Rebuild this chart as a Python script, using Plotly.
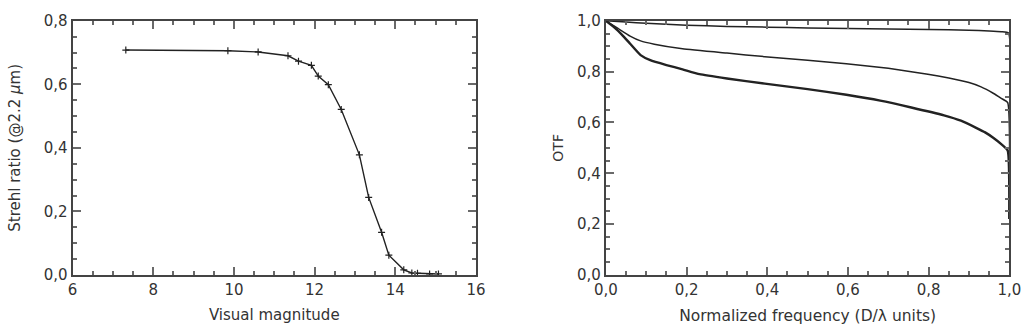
import plotly.graph_objects as go

# Left panel: Strehl ratio vs visual magnitude
vis_mag = [7.32, 9.85, 10.60, 11.34, 11.60, 11.92, 12.09, 12.34, 12.66, 13.11,
           13.34, 13.66, 13.84, 14.21, 14.41, 14.55, 14.85, 15.07]
strehl = [0.708, 0.706, 0.702, 0.690, 0.673, 0.660, 0.626, 0.599, 0.521, 0.378,
          0.244, 0.134, 0.062, 0.016, 0.006, 0.005, 0.003, 0.003]

# Right panel: OTF vs normalized frequency
freq_top = [0.0, 0.05, 0.1, 0.2, 0.3, 0.4, 0.5, 0.6, 0.7, 0.8, 0.9, 0.95, 0.98, 0.998, 1.0]
otf_top = [1.0, 0.995, 0.99, 0.983, 0.978, 0.975, 0.972, 0.970, 0.968, 0.966, 0.963, 0.960, 0.957, 0.952, 0.22]

freq_mid = [0.0, 0.03, 0.06, 0.086, 0.12, 0.19, 0.3, 0.394, 0.5, 0.596, 0.7, 0.798, 0.85, 0.9, 0.93,
            0.96, 0.98, 0.996, 1.0]
otf_mid = [1.0, 0.97, 0.94, 0.921, 0.908, 0.89, 0.873, 0.859, 0.845, 0.831, 0.813, 0.79, 0.775, 0.757, 0.74,
           0.715, 0.695, 0.678, 0.22]

freq_low = [0.0, 0.02, 0.04, 0.06, 0.086, 0.11, 0.15, 0.19, 0.232, 0.3, 0.394, 0.5, 0.596, 0.68, 0.757,
            0.838, 0.88, 0.919, 0.94, 0.96, 0.98, 0.996, 1.0]
otf_low = [1.0, 0.975, 0.945, 0.91, 0.865, 0.845, 0.826, 0.809, 0.79, 0.773, 0.753, 0.731, 0.709, 0.686,
           0.659, 0.628, 0.607, 0.578, 0.561, 0.54, 0.515, 0.49, 0.22]

W, H = 1035, 335
FONT = "DejaVu Sans"
INK = "#222"
FRAME = "#444"
TICK = "dimgray"
TXT = "#333"

fig = go.Figure()
fig.add_trace(go.Scatter(x=vis_mag, y=strehl, mode="lines+markers",
                         line=dict(color=INK, width=1.4),
                         marker=dict(symbol="cross-thin", size=5, line=dict(color=INK, width=1.2)),
                         xaxis="x", yaxis="y", showlegend=False))
for fx, fy, w in [(freq_top, otf_top, 1.5), (freq_mid, otf_mid, 1.5), (freq_low, otf_low, 2.4)]:
    fig.add_trace(go.Scatter(x=fx, y=fy, mode="lines",
                             line=dict(color=INK, width=w, shape="spline", smoothing=0.4),
                             xaxis="x2", yaxis="y2", showlegend=False))

def ax(dom, rng, tick0, dtick, dminor, title, anchor, fmt, standoff, tsize):
    return dict(domain=dom, range=rng, tickmode="linear", tick0=tick0, dtick=dtick, tickformat=fmt,
                ticks="inside", ticklen=8, tickwidth=2, tickcolor=TICK,
                minor=dict(dtick=dminor, ticks="inside", ticklen=4, tickcolor=TICK),
                showline=True, linecolor=FRAME, linewidth=2, mirror="ticks",
                showgrid=False, zeroline=False, anchor=anchor,
                tickfont=dict(family=FONT, size=15, color=TXT),
                title=dict(text=title, font=dict(family=FONT, size=tsize, color=TXT), standoff=standoff))

ydom = [(H - 281) / H, (H - 12.5) / H]
fig.update_layout(
    width=W, height=H, margin=dict(l=0, r=0, t=0, b=0),
    paper_bgcolor="white", plot_bgcolor="white", separators=", ",
    xaxis=ax([62 / W, 475 / W], [6, 16], 6, 2, 0.5, "Visual magnitude", "y", ".0f", 12, 15),
    yaxis=ax(ydom, [0, 0.8], 0, 0.2, 0.05, "Strehl ratio (@2.2 <i>μ</i>m)", "x", ".1f", 19, 15),
    xaxis2=ax([608 / W, 1021 / W], [0, 1.0], 0, 0.2, 0.05,
              "Normalized frequency (D/λ units)", "y2", ".1f", 12, 15.5),
    yaxis2=ax(ydom, [0, 1.0], 0, 0.2, 0.05, "OTF", "x2", ".1f", 10, 14),
)
fig.write_html("out.html")
